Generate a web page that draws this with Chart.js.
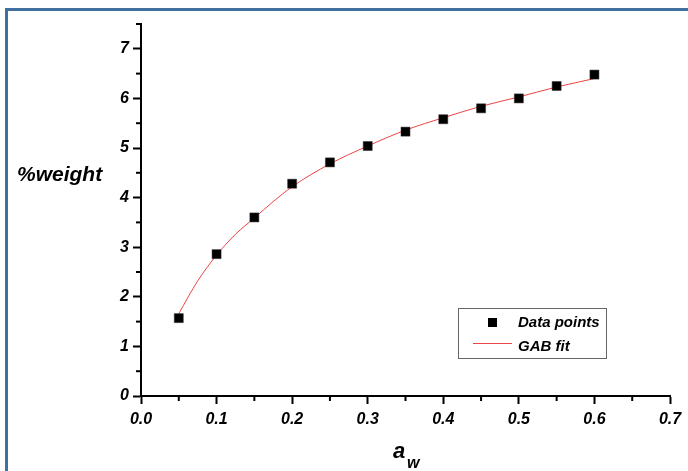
<!DOCTYPE html>
<html>
<head>
<meta charset="utf-8">
<script src="https://cdn.jsdelivr.net/npm/chart.js@4/dist/chart.umd.min.js"></script>
<style>
  body { margin: 0; background: #fff; }
  #wrap { position: relative; width: 688px; height: 471px; overflow: hidden; }
  #frame { position: absolute; left: 5px; top: 8px; width: 700px; height: 480px;
           border-top: 3px solid #40709f; border-left: 3px solid #40709f; }
  canvas { position: absolute; left: 0; top: 0; }
</style>
</head>
<body>
<div id="wrap">
  <div id="frame"></div>
  <canvas id="myChart" width="688" height="471"></canvas>
</div>
<script>
// measured points
const awValues = [0.05, 0.1, 0.15, 0.2, 0.25, 0.3, 0.35, 0.4, 0.45, 0.5, 0.55, 0.6];
const weightValues = [1.57, 2.86, 3.60, 4.28, 4.71, 5.04, 5.33, 5.58, 5.80, 6.00, 6.25, 6.48];

// GAB fit curve
const fitAw = [0.05, 0.075, 0.1, 0.125, 0.15, 0.175, 0.2, 0.25, 0.3, 0.35, 0.4, 0.45, 0.5, 0.55, 0.6];
const fitWeight = [1.66, 2.32, 2.84, 3.26, 3.59, 3.92, 4.22, 4.68, 5.04, 5.36, 5.61, 5.84, 6.03, 6.23, 6.40];

const xTicks = [0, 0.1, 0.2, 0.3, 0.4, 0.5, 0.6, 0.7];
const xMinor = [0.05, 0.15, 0.25, 0.35, 0.45, 0.55, 0.65];
const yTicks = [0, 1, 2, 3, 4, 5, 6, 7];
const yMinor = [0.5, 1.5, 2.5, 3.5, 4.5, 5.5, 6.5, 7.5];

const seriesNames = ['Data points', 'GAB fit'];

const FONT = '"Liberation Sans", Arial, sans-serif';

const extras = {
    id: 'extras',
    afterDraw(chart) {
        const ctx = chart.ctx;
        const xs = chart.scales.x, ys = chart.scales.y;
        const area = chart.chartArea;
        ctx.save();
        // minor ticks
        ctx.strokeStyle = '#000';
        ctx.lineWidth = 2;
        xMinor.forEach(v => {
            const px = xs.getPixelForValue(v);
            ctx.beginPath(); ctx.moveTo(px, area.bottom); ctx.lineTo(px, area.bottom + 5); ctx.stroke();
        });
        yMinor.forEach(v => {
            const py = ys.getPixelForValue(v);
            ctx.beginPath(); ctx.moveTo(area.left, py); ctx.lineTo(area.left - 5, py); ctx.stroke();
        });

        // axis titles
        ctx.fillStyle = '#000';
        ctx.textBaseline = 'middle';
        ctx.textAlign = 'left';
        ctx.font = 'italic bold 21px ' + FONT;
        ctx.fillText('%weight', 17, 175);
        ctx.font = 'italic bold 22px ' + FONT;
        ctx.fillText('a', 393, 452);
        ctx.font = 'italic bold 16px ' + FONT;
        ctx.fillText('w', 407, 464);

        // legend
        ctx.lineWidth = 1;
        ctx.strokeStyle = '#666';
        ctx.strokeRect(458.5, 308.5, 148, 50);
        ctx.fillStyle = '#000';
        ctx.fillRect(488, 318, 9, 9);
        ctx.strokeStyle = '#ee4444';
        ctx.beginPath(); ctx.moveTo(473, 343.5); ctx.lineTo(512, 343.5); ctx.stroke();
        ctx.font = 'italic bold 15px ' + FONT;
        ctx.fillText(seriesNames[0], 518, 323);
        ctx.fillText(seriesNames[1], 518, 347);
        ctx.restore();
    }
};

const ctx = document.getElementById('myChart');
const myChart = new Chart(ctx, {
    type: 'scatter',
    data: {
        datasets: [{
            label: seriesNames[1],
            data: fitAw.map((x, i) => ({ x: x, y: fitWeight[i] })),
            showLine: true,
            borderColor: '#ee4444',
            borderWidth: 1,
            pointRadius: 0,
            cubicInterpolationMode: 'monotone',
            order: 2
        }, {
            label: seriesNames[0],
            data: awValues.map((x, i) => ({ x: x, y: weightValues[i] })),
            pointStyle: 'rect',
            pointRadius: 6.4,
            backgroundColor: '#000',
            borderColor: '#333',
            borderWidth: 0.5,
            order: 1
        }]
    },
    options: {
        responsive: false,
        animation: false,
        layout: { padding: { top: 24, right: 18, left: 0, bottom: 0 } },
        plugins: { legend: { display: false }, tooltip: { enabled: false } },
        scales: {
            x: {
                type: 'linear',
                min: 0, max: 0.7,
                afterBuildTicks: s => { s.ticks = xTicks.map(v => ({ value: v })); },
                afterFit: s => { s.height = 75; },
                border: { color: '#000', width: 2 },
                grid: { drawOnChartArea: false, tickLength: 8, tickColor: '#000', tickWidth: 2 },
                ticks: {
                    color: '#000',
                    padding: 6,
                    maxRotation: 0,
                    font: { family: FONT, size: 16, style: 'italic', weight: 'bold' },
                    callback: v => v.toFixed(1)
                }
            },
            y: {
                type: 'linear',
                min: 0, max: 7.5,
                afterBuildTicks: s => { s.ticks = yTicks.map(v => ({ value: v })); },
                afterFit: s => { s.width = 141; },
                border: { color: '#000', width: 2 },
                grid: { drawOnChartArea: false, tickLength: 8, tickColor: '#000', tickWidth: 2 },
                ticks: {
                    color: '#000',
                    padding: 4,
                    font: { family: FONT, size: 16, style: 'italic', weight: 'bold' },
                    callback: v => String(v)
                }
            }
        }
    },
    plugins: [extras]
});
</script>
</body>
</html>
